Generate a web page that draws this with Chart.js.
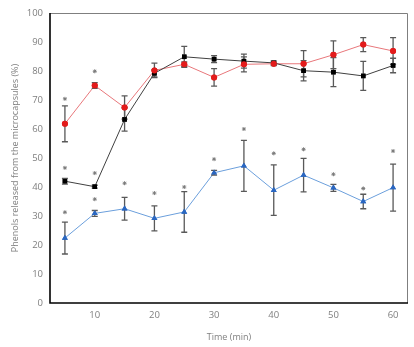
<!DOCTYPE html>
<html>
<head>
<meta charset="utf-8">
<script src="https://cdn.jsdelivr.net/npm/chart.js@4.4.1/dist/chart.umd.min.js"></script>
<style>
  html, body { margin: 0; padding: 0; background: #fff; }
  #wrap { width: 414px; height: 347px; }
</style>
</head>
<body>
<div id="wrap"><canvas id="chartOne" width="414" height="347"></canvas></div>
<script>
// tiempos (min)
let tiempos = [5, 10, 15, 20, 25, 30, 35, 40, 45, 50, 55, 60];
let xTicks = [10, 20, 30, 40, 50, 60];

// serie negra (cuadrados)
let negro = [42.0, 40.1, 63.3, 79.2, 84.9, 84.1, 83.4, 82.8, 80.1, 79.6, 78.3, 81.9];
let negroErr = [1.0, 0.5, 4.0, 1.2, 3.6, 1.2, 2.4, 0.7, 3.5, 5.0, 5.0, 2.5];
// serie roja (circulos)
let rojo = [61.8, 75.0, 67.4, 80.2, 82.3, 77.8, 82.3, 82.5, 82.5, 85.6, 89.1, 86.9];
let rojoErr = [6.2, 1.0, 4.0, 2.5, 0.8, 3.0, 2.6, 0.6, 4.5, 4.8, 2.4, 4.6];
// serie azul (triangulos)
let azul = [22.4, 30.9, 32.5, 29.2, 31.4, 44.9, 47.3, 38.9, 44.1, 39.7, 35.0, 39.8];
let azulErr = [5.5, 1.0, 3.9, 4.3, 7.0, 0.8, 8.8, 8.7, 5.8, 1.2, 2.5, 8.1];

// asteriscos de significancia
let astX = [5, 10, 5, 10, 5, 10, 15, 20, 25, 30, 35, 40, 45, 50, 55, 60];
let astY = [70.4, 79.9, 46.6, 44.8, 31.3, 35.8, 41.3, 37.9, 40.0, 49.6, 60.0, 51.6, 53.0, 44.4, 39.5, 52.4];

const puntos = (ys) => tiempos.map((t, i) => ({ x: t, y: ys[i] }));

// barras de error, luego se repintan los marcadores encima
const errorBars = {
    id: 'errorBars',
    afterDatasetsDraw(chart) {
        const ctx = chart.ctx;
        const xs = chart.scales.x, ys = chart.scales.y;
        ctx.save();
        chart.data.datasets.forEach((ds, di) => {
            if (!ds.errores) return;
            ds.data.forEach((p, i) => {
                const e = ds.errores[i];
                const px = xs.getPixelForValue(p.x);
                const top = ys.getPixelForValue(p.y + e);
                const bot = ys.getPixelForValue(p.y - e);
                ctx.strokeStyle = '#595959';
                ctx.lineWidth = 1.3;
                ctx.beginPath();
                ctx.moveTo(px, top); ctx.lineTo(px, bot);
                ctx.moveTo(px - 3, top); ctx.lineTo(px + 3, top);
                ctx.moveTo(px - 3, bot); ctx.lineTo(px + 3, bot);
                ctx.stroke();
            });
        });
        ctx.restore();
        chart.data.datasets.forEach((ds, di) => {
            if (!ds.errores) return;
            chart.getDatasetMeta(di).data.forEach(el => el.draw(ctx, chart.chartArea));
        });
    }
};

// marco del grafico
const marco = {
    id: 'marco',
    afterDraw(chart) {
        const { ctx, chartArea: a } = chart;
        ctx.save();
        ctx.strokeStyle = '#7f7f7f';
        ctx.lineWidth = 1;
        ctx.beginPath();
        ctx.moveTo(a.left, a.top + 0.5); ctx.lineTo(a.right - 0.5, a.top + 0.5);
        ctx.lineTo(a.right - 0.5, a.bottom);
        ctx.stroke();
        ctx.strokeStyle = '#000';
        ctx.lineWidth = 1.6;
        ctx.beginPath();
        ctx.moveTo(a.left, a.top); ctx.lineTo(a.left, a.bottom); ctx.lineTo(a.right, a.bottom);
        ctx.stroke();
        ctx.restore();
    }
};

const ctx = document.getElementById('chartOne').getContext('2d');
const chartOne = new Chart(ctx, {
    type: 'line',
    data: {
        datasets: [{
            label: 'negro',
            data: puntos(negro),
            errores: negroErr,
            borderColor: '#404040',
            borderWidth: 1,
            backgroundColor: '#000',
            pointBackgroundColor: '#000',
            pointBorderColor: '#000',
            pointStyle: 'rect',
            pointRadius: 3.2,
            pointBorderWidth: 0
        }, {
            label: 'rojo',
            data: puntos(rojo),
            errores: rojoErr,
            borderColor: '#e8777b',
            borderWidth: 1,
            pointBackgroundColor: '#e31b1b',
            pointBorderColor: '#e31b1b',
            pointStyle: 'circle',
            pointRadius: 3,
            pointBorderWidth: 0
        }, {
            label: 'azul',
            data: puntos(azul),
            errores: azulErr,
            borderColor: '#6b9fdc',
            borderWidth: 1,
            pointBackgroundColor: '#2a67c2',
            pointBorderColor: '#2a67c2',
            pointStyle: 'triangle',
            pointRadius: 3.4,
            pointBorderWidth: 0
        }, {
            label: 'asteriscos',
            data: astX.map((x, i) => ({ x: x, y: astY[i] })),
            showLine: false,
            pointStyle: 'star',
            pointRadius: 2,
            pointBorderWidth: 1,
            pointBorderColor: '#7a7a7a',
            pointBackgroundColor: '#7a7a7a'
        }]
    },
    options: {
        responsive: false,
        animation: false,
        events: [],
        layout: { padding: { top: 13, right: 6, left: 0, bottom: 0 } },
        plugins: { legend: { display: false }, tooltip: { enabled: false } },
        scales: {
            x: {
                type: 'linear',
                min: 2.5,
                max: 62.5,
                afterBuildTicks: (axis) => { axis.ticks = xTicks.map(v => ({ value: v })); },
                afterFit: (axis) => { axis.height = 44; },
                grid: { display: false, drawTicks: false },
                border: { display: false },
                ticks: { color: '#7f7f7f', font: { family: 'Open Sans', size: 9.5 }, padding: 7, maxRotation: 0 },
                title: { display: true, text: 'Time (min)', color: '#7f7f7f', font: { family: 'Open Sans', size: 9 }, padding: { top: 0 } }
            },
            y: {
                min: 0,
                max: 100,
                afterFit: (axis) => { axis.width = 50; },
                grid: { display: false, drawTicks: false },
                border: { display: false },
                ticks: { stepSize: 10, color: '#7f7f7f', font: { family: 'Open Sans', size: 9.5 }, padding: 7 },
                title: { display: true, text: 'Phenols released from the microcapsules (%)', color: '#7f7f7f', font: { family: 'Open Sans', size: 9 }, padding: { top: 10, bottom: 0 } }
            }
        }
    },
    plugins: [errorBars, marco]
});
</script>
</body>
</html>
